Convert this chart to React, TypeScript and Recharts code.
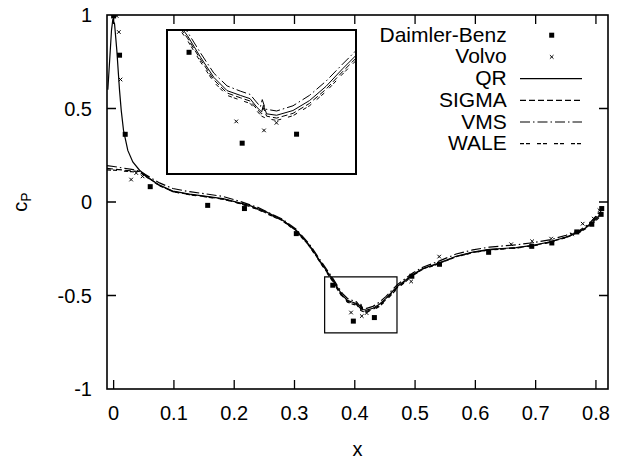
import { ComposedChart, Line, Scatter, XAxis, YAxis, ReferenceArea, Legend } from 'recharts'

const FONT = '"Liberation Sans", Arial, Helvetica, sans-serif'

const xTicks = [0, 0.1, 0.2, 0.3, 0.4, 0.5, 0.6, 0.7, 0.8]
const yTicks = [-1, -0.5, 0, 0.5, 1]
const legendNames = ['Daimler-Benz', 'Volvo', 'QR', 'SIGMA', 'VMS', 'WALE']
const X_DOMAIN: [number, number] = [-0.011, 0.82]
const Y_DOMAIN: [number, number] = [-1, 1]

// measured points [x, cp]
const daimlerBenz: [number, number][] = [
  [0.0, 0.995], [0.0098, 0.785], [0.0192, 0.362], [0.0607, 0.082], [0.156, -0.018],
  [0.217, -0.035], [0.303, -0.169], [0.3635, -0.445], [0.3976, -0.637], [0.4325, -0.618],
  [0.4946, -0.397], [0.5405, -0.333], [0.622, -0.269], [0.6935, -0.237], [0.7268, -0.219],
  [0.7682, -0.16], [0.7931, -0.119], [0.8086, -0.066], [0.8096, -0.035],
]

const volvo: [number, number][] = [
  [0.005, 0.995], [0.0086, 0.909], [0.0114, 0.655], [0.029, 0.12], [0.0375, 0.155],
  [0.048, 0.137], [0.3938, -0.591], [0.4116, -0.61], [0.4196, -0.594], [0.4935, -0.425],
  [0.54, -0.292], [0.6594, -0.226], [0.6942, -0.21], [0.7257, -0.196], [0.7605, -0.173],
  [0.778, -0.116], [0.7964, -0.089], [0.8058, -0.044],
]

const qr: [number, number][] = [
  [-0.0096, 0.6], [-0.0056, 0.81], [-0.0035, 0.92], [-0.0015, 0.972], [0.0015, 0.954],
  [0.0053, 0.811], [0.0098, 0.597], [0.0126, 0.49], [0.0164, 0.383], [0.0235, 0.276],
  [0.0318, 0.214], [0.043, 0.17], [0.0596, 0.125], [0.0761, 0.09], [0.0982, 0.058],
  [0.1259, 0.042], [0.1536, 0.03], [0.1811, 0.018], [0.2088, -0.005], [0.2254, -0.018],
  [0.2391, -0.036], [0.2531, -0.053], [0.2806, -0.098], [0.3028, -0.151], [0.3249, -0.232],
  [0.3415, -0.312], [0.3552, -0.378], [0.3625, -0.41], [0.371, -0.456], [0.3794, -0.498],
  [0.3879, -0.526], [0.3964, -0.536], [0.4027, -0.543], [0.407, -0.561], [0.4101, -0.571],
  [0.4112, -0.557], [0.4133, -0.575], [0.4197, -0.578], [0.4302, -0.568], [0.4408, -0.547],
  [0.4514, -0.517], [0.462, -0.48], [0.4705, -0.452], [0.4962, -0.388], [0.5128, -0.356],
  [0.5405, -0.325], [0.5682, -0.29], [0.5957, -0.268], [0.6234, -0.253], [0.6677, -0.244],
  [0.6952, -0.232], [0.7229, -0.214], [0.7506, -0.187], [0.7726, -0.16], [0.7892, -0.125],
  [0.8003, -0.089], [0.8086, -0.062],
]

const sigma: [number, number][] = [
  [-0.011, 0.18], [0.0, 0.176], [0.015, 0.171], [0.03, 0.166], [0.043, 0.163],
  [0.0596, 0.124], [0.0761, 0.088], [0.0982, 0.056], [0.1259, 0.04], [0.1536, 0.028],
  [0.1811, 0.016], [0.2088, -0.007], [0.2391, -0.038], [0.2806, -0.1], [0.3028, -0.153],
  [0.3249, -0.235], [0.3415, -0.315], [0.3552, -0.382], [0.3625, -0.415], [0.371, -0.461],
  [0.3794, -0.503], [0.3879, -0.531], [0.3964, -0.541], [0.4027, -0.548], [0.407, -0.565],
  [0.4101, -0.575], [0.4112, -0.562], [0.4133, -0.58], [0.4197, -0.584], [0.4302, -0.574],
  [0.4408, -0.553], [0.4514, -0.523], [0.462, -0.486], [0.4705, -0.458], [0.4962, -0.39],
  [0.5128, -0.358], [0.5405, -0.327], [0.5682, -0.292], [0.5957, -0.27], [0.6234, -0.255],
  [0.6677, -0.245], [0.6952, -0.233], [0.7229, -0.215], [0.7506, -0.188], [0.7726, -0.158],
  [0.7892, -0.12], [0.8003, -0.082], [0.8086, -0.05],
]

const vms: [number, number][] = [
  [-0.011, 0.195], [0.0, 0.19], [0.015, 0.182], [0.03, 0.174], [0.043, 0.166],
  [0.0596, 0.133], [0.0761, 0.102], [0.0982, 0.072], [0.1259, 0.055], [0.1536, 0.043],
  [0.1811, 0.03], [0.2088, 0.004], [0.2391, -0.029], [0.2806, -0.093], [0.3028, -0.146],
  [0.3249, -0.226], [0.3415, -0.305], [0.3552, -0.37], [0.3625, -0.402], [0.371, -0.447],
  [0.3794, -0.489], [0.3879, -0.516], [0.3964, -0.527], [0.4027, -0.534], [0.4062, -0.548],
  [0.4093, -0.56], [0.4105, -0.545], [0.4125, -0.565], [0.4197, -0.569], [0.4302, -0.558],
  [0.4408, -0.536], [0.4514, -0.506], [0.462, -0.47], [0.4705, -0.442], [0.4962, -0.38],
  [0.5128, -0.349], [0.5405, -0.315], [0.5682, -0.278], [0.5957, -0.256], [0.6234, -0.241],
  [0.6677, -0.229], [0.6952, -0.218], [0.7229, -0.203], [0.7506, -0.178], [0.7726, -0.152],
  [0.7892, -0.115], [0.8003, -0.075], [0.8086, -0.042],
]

const wale: [number, number][] = [
  [-0.011, 0.172], [0.0, 0.17], [0.015, 0.166], [0.03, 0.162], [0.043, 0.16],
  [0.0596, 0.122], [0.0761, 0.087], [0.0982, 0.055], [0.1259, 0.039], [0.1536, 0.027],
  [0.1811, 0.015], [0.2088, -0.008], [0.2391, -0.04], [0.2806, -0.102], [0.3028, -0.156],
  [0.3249, -0.238], [0.3415, -0.318], [0.3552, -0.386], [0.3625, -0.42], [0.371, -0.466],
  [0.3794, -0.508], [0.3879, -0.536], [0.3964, -0.546], [0.4027, -0.553], [0.407, -0.569],
  [0.4101, -0.58], [0.4133, -0.585], [0.4197, -0.589], [0.4302, -0.579], [0.4408, -0.558],
  [0.4514, -0.528], [0.462, -0.491], [0.4705, -0.463], [0.4962, -0.393], [0.5128, -0.36],
  [0.5405, -0.329], [0.5682, -0.293], [0.5957, -0.271], [0.6234, -0.256], [0.6677, -0.247],
  [0.6952, -0.235], [0.7229, -0.217], [0.7506, -0.19], [0.7726, -0.163], [0.7892, -0.13],
  [0.8003, -0.098], [0.8086, -0.072],
]

const toPts = (arr: [number, number][]) => arr.map(([x, y]) => ({ x, y }))

const lineStyles = [
  { name: 'QR', data: qr, dash: undefined },
  { name: 'SIGMA', data: sigma, dash: '6 3' },
  { name: 'VMS', data: vms, dash: '10 3 1.5 3' },
  { name: 'WALE', data: wale, dash: '4 2 4 7' },
]

// chart box
const W = 618
const H = 460
const MARGIN = { top: 15, right: 10, bottom: 0, left: 0 }
const Y_AXIS_W = 107
const X_AXIS_H = 71
const PLOT = {
  left: MARGIN.left + Y_AXIS_W,
  top: MARGIN.top,
  width: W - MARGIN.left - Y_AXIS_W - MARGIN.right,
  height: H - MARGIN.top - X_AXIS_H - MARGIN.bottom,
}
const TICK = 9
const sx = (v: number) => PLOT.left + ((v - X_DOMAIN[0]) / (X_DOMAIN[1] - X_DOMAIN[0])) * PLOT.width
const sy = (v: number) => PLOT.top + ((Y_DOMAIN[1] - v) / (Y_DOMAIN[1] - Y_DOMAIN[0])) * PLOT.height

const Square = (p: any) => <rect x={p.cx - 2.5} y={p.cy - 2.5} width={5} height={5} fill="#000" />
const Cross = (p: any) => (
  <path
    d={`M${p.cx - 1.8},${p.cy - 1.8}L${p.cx + 1.8},${p.cy + 1.8}M${p.cx - 1.8},${p.cy + 1.8}L${p.cx + 1.8},${p.cy - 1.8}`}
    stroke="#000"
    strokeWidth={1}
  />
)

const BottomTick = (p: any) => (
  <text x={p.x} y={p.y + 31} textAnchor="middle" fontSize={20} fontFamily={FONT} fill="#000">
    {String(p.payload.value)}
  </text>
)
const LeftTick = (p: any) => (
  <text x={p.x - 15} y={p.y + 7} textAnchor="end" fontSize={20} fontFamily={FONT} fill="#000">
    {String(p.payload.value)}
  </text>
)

const XLabel = (p: any) => {
  const vb = p.viewBox
  return (
    <text x={vb.x + vb.width / 2} y={vb.y + 67} textAnchor="middle" fontSize={20} fontFamily={FONT} fill="#000">
      x
    </text>
  )
}
const YLabel = (p: any) => {
  const vb = p.viewBox
  return (
    <text transform={`translate(27,${vb.y + vb.height / 2}) rotate(-90)`} textAnchor="middle" fontSize={20} fontFamily={FONT} fill="#000">
      c<tspan fontSize={14} dy={4}>P</tspan>
    </text>
  )
}

// legend entries plus the plot border with inward ticks on all four sides
const Overlay = () => {
  const r = PLOT.left + PLOT.width
  const b = PLOT.top + PLOT.height
  const ticks = [
    ...xTicks.map((t) => `M${sx(t)},${b}v${-TICK}M${sx(t)},${PLOT.top}v${TICK}`),
    ...yTicks.slice(1, -1).map((t) => `M${PLOT.left},${sy(t)}h${TICK}M${r},${sy(t)}h${-TICK}`),
  ].join('')
  return (
    <svg width={W} height={H} style={{ display: 'block' }}>
      <rect x={PLOT.left} y={PLOT.top} width={PLOT.width} height={PLOT.height} fill="none" stroke="#000" strokeWidth={1.6} />
      <path d={ticks} stroke="#000" strokeWidth={1.3} fill="none" />
      {legendNames.map((name, i) => {
        const base = 41.7 + i * 21.7
        const mid = base - 6.5
        let sample = null
        if (i === 0) sample = <Square cx={551.7} cy={mid} />
        else if (i === 1) sample = <Cross cx={551.7} cy={mid} />
        else
          sample = (
            <line x1={520} x2={582} y1={mid} y2={mid} stroke="#000" strokeWidth={1.2}
              strokeDasharray={lineStyles[i - 2].dash} />
          )
        return (
          <g key={name}>
            <text x={506.7} y={base} textAnchor="end" fontSize={21} fontFamily={FONT} fill="#000">{name}</text>
            {sample}
          </g>
        )
      })}
    </svg>
  )
}

function seriesItems(width: number) {
  return [
    ...lineStyles.map((s) => (
      <Line key={s.name} name={s.name} data={toPts(s.data)} dataKey="y" type="linear" stroke="#000"
        strokeWidth={width} strokeDasharray={s.dash} dot={false} activeDot={false} isAnimationActive={false} />
    )),
    <Scatter key="db" name="Daimler-Benz" data={toPts(daimlerBenz)} dataKey="y" shape={Square} isAnimationActive={false} />,
    <Scatter key="vo" name="Volvo" data={toPts(volvo)} dataKey="y" shape={Cross} isAnimationActive={false} />,
  ]
}

export default function App() {
  return (
    <div style={{ position: 'absolute', left: 0, top: 0, width: W, height: H, background: '#fff' }}>
      <ComposedChart width={W} height={H} margin={MARGIN}>
        <XAxis dataKey="x" type="number" domain={X_DOMAIN} ticks={xTicks} interval={0} allowDataOverflow
          height={X_AXIS_H} tickSize={0} tickMargin={0} tickLine={false} axisLine={false} tick={BottomTick} label={XLabel} />
        <YAxis dataKey="y" type="number" domain={Y_DOMAIN} ticks={yTicks} interval={0} allowDataOverflow width={Y_AXIS_W}
          tickSize={0} tickMargin={0} tickLine={false} axisLine={false} tick={LeftTick} label={YLabel} />
        <ReferenceArea x1={0.35} x2={0.47} y1={-0.7} y2={-0.4} fill="none" stroke="#000" strokeWidth={1.2} />
        {seriesItems(1.2)}
        <Legend layout="horizontal" verticalAlign="middle" align="center" content={Overlay}
          wrapperStyle={{ left: 0, top: 0, width: W, height: H, pointerEvents: 'none' }} />
      </ComposedChart>
      <div style={{ position: 'absolute', left: 166, top: 29, width: 187, height: 142, border: '2px solid #000', background: '#fff' }}>
        <ComposedChart width={187} height={142} margin={{ top: 0, right: 0, bottom: 0, left: 0 }}>
          <XAxis hide dataKey="x" type="number" domain={[0.35, 0.47]} allowDataOverflow />
          <YAxis hide dataKey="y" type="number" domain={[-0.7, -0.4]} allowDataOverflow />
          {seriesItems(1)}
        </ComposedChart>
      </div>
    </div>
  )
}
